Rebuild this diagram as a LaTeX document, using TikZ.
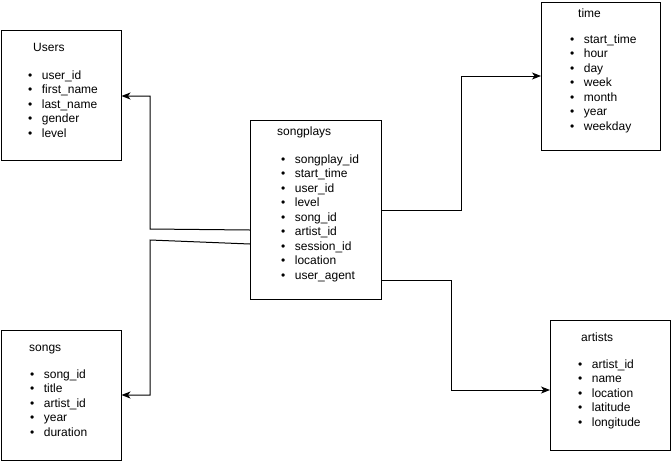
\documentclass[tikz,border=0pt]{standalone}
\usepackage{fontspec}
\setmainfont{Liberation Sans}
\usetikzlibrary{arrows.meta}
\tikzset{
    tblbox/.style={draw,line width=1pt,anchor=north west,inner sep=0pt},
    tbltitle/.style={font=\fontsize{12}{14.5}\selectfont,anchor=base west,inner sep=0pt},
    % base of a field list = baseline of its last line
    fields/.style={font=\fontsize{12}{14.5}\selectfont,align=left,anchor=base west,inner sep=0pt},
    link/.style={line width=1pt,-{Stealth[length=9pt,width=7pt,inset=2.5pt]}}
}
\newcommand{\itm}{\textbullet\hspace{9.5pt}}

\begin{document}
\begin{tikzpicture}[x=1pt,y=-1pt]
			\useasboundingbox (0,0) rectangle (671,461);
			% tables
			\node[tblbox, minimum width=120pt, minimum height=130pt] (users) at (0.5,30) {};
			\node[tblbox, minimum width=131pt, minimum height=179pt] (songplays) at (250,120) {};
			\node[tblbox, minimum width=119pt, minimum height=148pt] (time) at (541,2) {};
			\node[tblbox, minimum width=120pt, minimum height=130pt] (songs) at (0.5,330) {};
			\node[tblbox, minimum width=120pt, minimum height=130pt] (artists) at (550,320) {};
			% titles
			\node[tbltitle] (userstitle) at (33,51) {Users};
			\node[tbltitle] (songplaystitle) at (277,135) {songplays};
			\node[tbltitle] (timetitle) at (578,17) {time};
			\node[tbltitle] (songstitle) at (29,351) {songs};
			\node[tbltitle] (artiststitle) at (581,341) {artists};
			% columns
			\node[fields] (usersfields) at (28,137) {\itm user\_id\\\itm first\_name\\\itm last\_name\\\itm gender\\\itm level};
			\node[fields] (songplaysfields) at (281,279) {\itm songplay\_id\\\itm start\_time\\\itm user\_id\\\itm level\\\itm song\_id\\\itm artist\_id\\\itm session\_id\\\itm location\\\itm user\_agent};
			\node[fields] (timefields) at (570,130) {\itm start\_time\\\itm hour\\\itm day\\\itm week\\\itm month\\\itm year\\\itm weekday};
			\node[fields] (songsfields) at (30,436) {\itm song\_id\\\itm title\\\itm artist\_id\\\itm year\\\itm duration};
			\node[fields] (artistsfields) at (578,426) {\itm artist\_id\\\itm name\\\itm location\\\itm latitude\\\itm longitude};
			% links
			\draw[link] (songplays.west |- 0,230) -- ++(-100,-1) |- (users.east |- 0,96);
			\draw[link] (songplays.west |- 0,244) -- ++(-100,-4) |- (songs.east |- 0,395);
			\draw[link] (songplays.east |- 0,210) -- ++(79,0) |- (time.west |- 0,76);
			\draw[link] (songplays.east |- 0,280) -- ++(69,0) |- (artists.west |- 0,390);
		\end{tikzpicture}
\end{document}
